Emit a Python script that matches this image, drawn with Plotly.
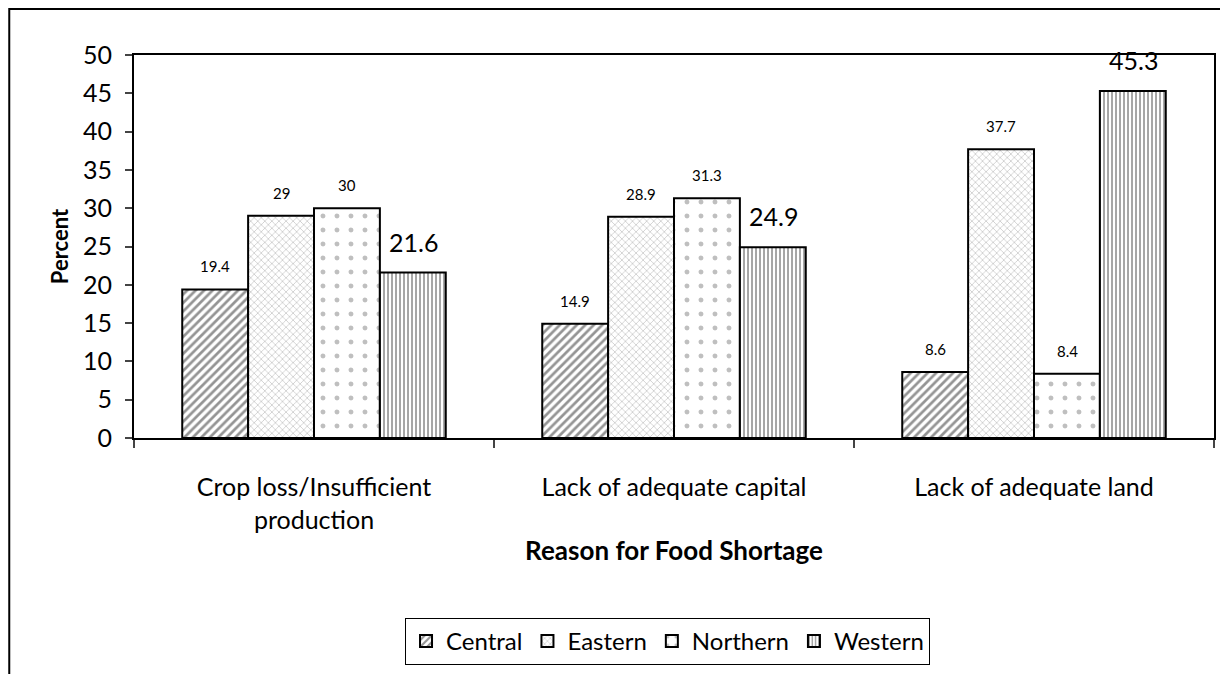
import plotly.graph_objects as go

# Survey results: reasons for food shortage by region (percent of households)
reasons = ["Crop loss/Insufficient<br>production", "Lack of adequate capital", "Lack of adequate land"]
regions = ["Central", "Eastern", "Northern", "Western"]
central = [19.4, 14.9, 8.6]
eastern = [29, 28.9, 37.7]
northern = [30, 31.3, 8.4]
western = [21.6, 24.9, 45.3]
y_ticks = [0, 5, 10, 15, 20, 25, 30, 35, 40, 45, 50]

series = [central, eastern, northern, western]

# Fill patterns per region (monochrome print style)
patterns = [
    dict(shape="/", size=6, solidity=0.45, fgcolor="#2a2a2a", bgcolor="white"),
    dict(shape="x", size=5, solidity=0.3, fgcolor="#9a9a9a", bgcolor="white"),
    dict(shape=".", size=14, solidity=0.1, fgcolor="#808080", bgcolor="white"),
    dict(shape="|", size=4, solidity=0.45, fgcolor="#3a3a3a", bgcolor="white"),
]
label_sizes = [15, 15, 15, 25]
label_lift = [12, 12, 12, 14]

FONT = "Lato, Calibri, Carlito, sans-serif"

fig = go.Figure()
for name, vals, pat in zip(regions, series, patterns):
    fig.add_trace(go.Bar(
        name=name, x=reasons, y=vals,
        marker=dict(color="white", pattern=pat, line=dict(color="black", width=2)),
    ))

# Value labels above each bar, positioned from the bar value
offsets = [-99, -33, 33, 99]
annotations = []
for vals, off, fs, lift in zip(series, offsets, label_sizes, label_lift):
    for cat, v in zip(reasons, vals):
        annotations.append(dict(
            x=cat, y=v, xref="x", yref="y", text=f"{v:g}", showarrow=False,
            xshift=off, yshift=lift, yanchor="bottom",
            font=dict(family=FONT, size=fs, color="black"),
        ))

fig.update_layout(
    width=1220, height=674,
    margin=dict(l=134, r=4, t=55, b=236),
    paper_bgcolor="white", plot_bgcolor="white",
    barmode="group", bargap=0.268, bargroupgap=0,
    font=dict(family=FONT, size=24, color="black"),
    showlegend=True,
    legend=dict(
        orientation="h", x=0.494, xanchor="center", y=-0.47, yanchor="top",
        bordercolor="black", borderwidth=1, font=dict(size=24),
        itemwidth=30, tracegroupgap=0,
    ),
    annotations=annotations,
    shapes=[
        # outer chart frame (left and top edges)
        dict(type="rect", xref="paper", yref="paper",
             x0=-0.1155, x1=1.2, y0=-1.0, y1=1.1201,
             line=dict(color="black", width=2), fillcolor="rgba(0,0,0,0)", layer="below"),
    ],
)

fig.update_yaxes(
    range=[0, 50], tickvals=y_ticks, ticks="outside", ticklen=7, tickwidth=2,
    showline=True, linecolor="black", linewidth=2, mirror=True,
    showgrid=False, zeroline=False, tickfont=dict(size=25), ticklabelstandoff=8,
    title=dict(text="<b>Percent</b>", font=dict(size=22), standoff=8),
)
fig.update_xaxes(
    ticks="outside", ticklen=8, tickwidth=2, tickson="boundaries",
    showline=True, linecolor="black", linewidth=2, mirror=True,
    showgrid=False, tickfont=dict(size=25), ticklabelstandoff=26,
    title=dict(text="<b>Reason for Food Shortage</b>", font=dict(size=26), standoff=9),
)

fig.write_html("out.html")
